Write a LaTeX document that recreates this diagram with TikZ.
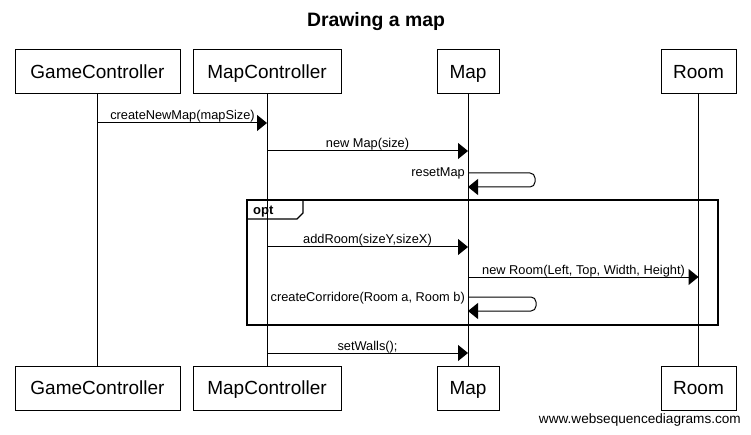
\documentclass[tikz,border=0pt]{standalone}
\usepackage{fontspec}
\setmainfont{Liberation Sans}
\usetikzlibrary{arrows.meta}
\begin{document}
\begin{tikzpicture}[x=1pt,y=-1pt,
  actor/.style={draw, line width=1pt, inner sep=0pt, minimum height=44pt,
    text height=13.6pt, text depth=0pt, font=\fontsize{19}{19}\selectfont},
  lifeline/.style={line width=1pt},
  msg/.style={line width=1pt, -{Triangle[length=10pt,width=16pt]}},
  lbl/.style={font=\fontsize{12.8}{13}\selectfont, inner sep=0pt, anchor=base},
  selflbl/.style={lbl, anchor=base east},
  framebox/.style={draw, line width=2pt, inner sep=0pt},
  tabline/.style={line width=1.3pt},
  title/.style={font=\bfseries\fontsize{19.4}{20}\selectfont, inner sep=0pt, anchor=base},
  wmark/.style={font=\fontsize{13.6}{14}\selectfont, inner sep=0pt, anchor=base east}
]
\fill[white] (0,0) rectangle (751,435);
\useasboundingbox (0,0) rectangle (751,435);

\node[title] (ttl) at (376,27) {Drawing a map};

% participants top
\node[actor, minimum width=165pt] (gcT) at (97.5,72) {GameController};
\node[actor, minimum width=148pt] (mcT) at (267,72) {MapController};
\node[actor, minimum width=62pt] (mapT) at (468,72) {Map};
\node[actor, minimum width=75pt] (roomT) at (698.5,72) {Room};
% participants bottom
\node[actor, minimum width=165pt] (gcB) at (97.5,388) {GameController};
\node[actor, minimum width=148pt] (mcB) at (267,388) {MapController};
\node[actor, minimum width=62pt] (mapB) at (468,388) {Map};
\node[actor, minimum width=75pt] (roomB) at (698.5,388) {Room};

% lifelines
\draw[lifeline] (gcT) -- (gcB);
\draw[lifeline] (mcT) -- (mcB);
\draw[lifeline] (mapT) -- (mapB);
\draw[lifeline] (roomT) -- (roomB);

% opt frame
\node[framebox, minimum width=471pt, minimum height=125pt] (frame) at (482.5,262.5) {};
\coordinate (tabA) at (247,219);
\coordinate (tabB) at (297,219);
\coordinate (tabC) at (303,213);
\coordinate (tabD) at (303,200);
\draw[tabline] (tabA) -- (tabB) -- (tabC) -- (tabD);
\node[font=\bfseries\fontsize{13}{13}\selectfont, inner sep=0pt, anchor=base west] (optl) at (253,215) {opt};

% message 1
\coordinate (m1s) at (97.5,123);
\coordinate (m1e) at (267,123);
\draw[msg] (m1s) -- (m1e);
\node[lbl] (l1) at (182.5,120) {createNewMap(mapSize)};

% message 2
\coordinate (m2s) at (267,151);
\coordinate (m2e) at (468,151);
\draw[msg] (m2s) -- (m2e);
\node[lbl] (l2) at (367.5,148) {new Map(size)};

% message 3 (self)
\coordinate (m3s) at (468,173);
\coordinate (m3a) at (535,173);
\coordinate (m3b) at (535,187);
\coordinate (m3e) at (468,187);
\draw[msg, rounded corners=5pt] (m3s) -- (m3a) -- (m3b) -- (m3e);
\node[selflbl] (l3) at (465,177) {resetMap};

% message 4
\coordinate (m4s) at (267,247);
\coordinate (m4e) at (468,247);
\draw[msg] (m4s) -- (m4e);
\node[lbl] (l4) at (367.5,244) {addRoom(sizeY,sizeX)};

% message 5
\coordinate (m5s) at (468,277);
\coordinate (m5e) at (698.5,277);
\draw[msg] (m5s) -- (m5e);
\node[lbl] (l5) at (583.5,274) {new Room(Left, Top, Width, Height)};

% message 6 (self)
\coordinate (m6s) at (468,297);
\coordinate (m6a) at (536,297);
\coordinate (m6b) at (536,311);
\coordinate (m6e) at (468,311);
\draw[msg, rounded corners=5pt] (m6s) -- (m6a) -- (m6b) -- (m6e);
\node[selflbl] (l6) at (465,301) {createCorridore(Room a, Room b)};

% message 7
\coordinate (m7s) at (267,353);
\coordinate (m7e) at (468,353);
\draw[msg] (m7s) -- (m7e);
\node[lbl] (l7) at (367.5,350) {setWalls();};

\node[wmark] (wm) at (741,423) {www.websequencediagrams.com};
\end{tikzpicture}
\end{document}
